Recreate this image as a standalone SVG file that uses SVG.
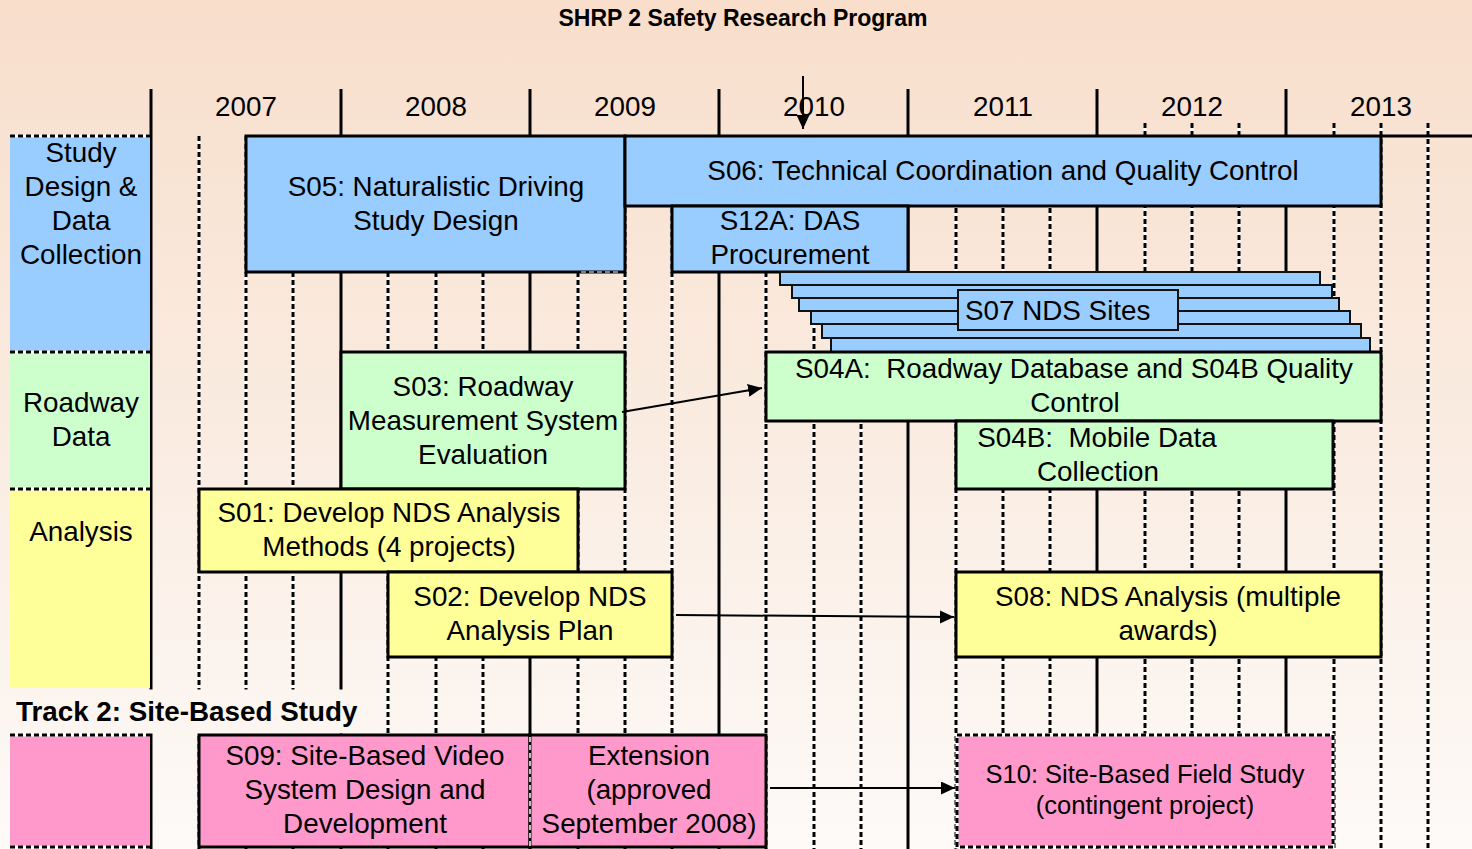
<svg xmlns="http://www.w3.org/2000/svg" xmlns:xlink="http://www.w3.org/1999/xlink" width="1472" height="849" viewBox="0 0 1472 849">
  <defs>
    <linearGradient id="bg" gradientUnits="userSpaceOnUse" x1="0" y1="0" x2="0" y2="849">
      <stop offset="0" stop-color="#F8DECB"/>
      <stop offset="0.55" stop-color="#FAEDE3"/>
      <stop offset="1" stop-color="#FDFAF8"/>
    </linearGradient>
    <marker id="arrow" markerUnits="userSpaceOnUse" markerWidth="16" markerHeight="14" refX="14" refY="6.5" orient="auto">
      <path d="M0,0 L14,6.5 L0,13 z" fill="#000"/>
    </marker>
    <!-- quarter-year grid lines -->
    <path id="qlines" d="M199,136V849 M246,136V849 M293,136V849 M388,136V849 M436,136V849 M483,136V849 M578,136V849 M625,136V849 M672,136V849 M766,136V849 M814,136V849 M861,136V849 M956,136V849 M1003,136V849 M1050,136V849 M1145,123V849 M1192,123V849 M1239,123V849 M1334,123V849 M1381,123V849 M1428,123V849"/>
    <!-- dotted band borders on the left category column -->
    <path id="bands" d="M10,136H150 M10,352H150 M10,489H150 M10,735H150 M10,847H150"/>
  </defs>
  <style>
    .t { font-family: "Liberation Sans", Arial, sans-serif; font-size: 27.8px; text-anchor: middle; fill: #000; }
    .b { font-weight: bold; }
    .box { stroke: #000; stroke-width: 3; }
    .blue { fill: #99CCFF; }
    .green { fill: #CCFFCC; }
    .yellow { fill: #FFFF99; }
    .pink { fill: #FF99CC; }
    .bar { fill: #99CCFF; stroke: #111; stroke-width: 2; }
    .solid { stroke: #000; stroke-width: 3; fill: none; }
    .dot-w { stroke: #fff; stroke-width: 3; fill: none; }
    .dot-b { stroke: #000; stroke-width: 3; fill: none; stroke-dasharray: 5 3; }
    .conn { stroke: #000; stroke-width: 2; fill: none; marker-end: url(#arrow); }
  </style>

  <!-- background -->
  <rect x="0" y="0" width="1472" height="849" fill="url(#bg)"/>

  <!-- title -->
  <text class="t b" x="743" y="26" style="font-size:23px">SHRP 2 Safety Research Program</text>

  <!-- timeline grid -->
  <g id="grid">
    <use xlink:href="#qlines" class="dot-w"/>
    <use xlink:href="#qlines" class="dot-b"/>
    <path class="solid" d="M151,89V849 M341,89V849 M530,89V849 M719,89V849 M908,89V849 M1097,89V849 M1286,89V849 M1381,136H1472"/>
    <!-- clear strip behind the Track 2 heading -->
    <rect x="0" y="689.5" width="372" height="44" fill="url(#bg)"/>
  </g>

  <!-- year headings -->
  <g id="years">
    <text class="t" x="246" y="116">2007</text>
    <text class="t" x="436" y="116">2008</text>
    <text class="t" x="625" y="116">2009</text>
    <text class="t" x="814" y="116">2010</text>
    <text class="t" x="1003" y="116">2011</text>
    <text class="t" x="1192" y="116">2012</text>
    <text class="t" x="1381" y="116">2013</text>
  </g>

  <!-- category column -->
  <g id="categories">
    <rect x="10" y="136" width="140" height="216" class="blue"/>
    <rect x="10" y="352" width="140" height="137" class="green"/>
    <rect x="10" y="489" width="140" height="199" class="yellow"/>
    <rect x="10" y="735" width="140" height="112" class="pink"/>
    <use xlink:href="#bands" class="dot-w"/>
    <use xlink:href="#bands" class="dot-b"/>
    <text class="t" x="81" y="162">Study</text>
    <text class="t" x="81" y="196">Design &amp;</text>
    <text class="t" x="81" y="230">Data</text>
    <text class="t" x="81" y="264">Collection</text>
    <text class="t" x="81" y="412">Roadway</text>
    <text class="t" x="81" y="446">Data</text>
    <text class="t" x="81" y="541">Analysis</text>
    <text class="t b" x="16" y="721" style="text-anchor:start">Track 2: Site-Based Study</text>
  </g>

  <g id="S05">
    <rect x="246" y="136" width="379" height="136" class="box blue"/>
    <path d="M581,272H621" stroke="#fff" stroke-width="1.2" stroke-dasharray="5 3"/>
    <text class="t" x="436" y="196">S05: Naturalistic Driving</text>
    <text class="t" x="436" y="230">Study Design</text>
  </g>

  <g id="S06">
    <rect x="625" y="136" width="756" height="70" class="box blue"/>
    <text class="t" x="1003" y="180">S06: Technical Coordination and Quality Control</text>
  </g>

  <g id="S12A">
    <rect x="672" y="206" width="236" height="66" class="box blue"/>
    <text class="t" x="790" y="230">S12A: DAS</text>
    <text class="t" x="790" y="264">Procurement</text>
  </g>

  <g id="S07">
    <rect x="780" y="272" width="540" height="13" class="bar"/>
    <rect x="792" y="285" width="540" height="13" class="bar"/>
    <rect x="799" y="298" width="540" height="13" class="bar"/>
    <rect x="811" y="311" width="539" height="13" class="bar"/>
    <rect x="822" y="324" width="539" height="14" class="bar"/>
    <rect x="831" y="338" width="539" height="14" class="bar"/>
    <rect x="958" y="290" width="220" height="40" class="bar"/>
    <text class="t" x="965" y="320" style="text-anchor:start">S07 NDS Sites</text>
  </g>

  <g id="S04A">
    <rect x="766" y="352" width="615" height="69" class="box green"/>
    <text class="t" x="1074" y="378" xml:space="preserve" style="white-space:pre">S04A:  Roadway Database and S04B Quality</text>
    <text class="t" x="1075" y="412">Control</text>
  </g>

  <g id="S04B">
    <rect x="956" y="421" width="377" height="68" class="box green"/>
    <text class="t" x="1097" y="447" xml:space="preserve" style="white-space:pre">S04B:  Mobile Data</text>
    <text class="t" x="1098" y="481">Collection</text>
  </g>

  <g id="S03">
    <rect x="341" y="352" width="284" height="137" class="box green"/>
    <text class="t" x="483" y="396">S03: Roadway</text>
    <text class="t" x="483" y="430">Measurement System</text>
    <text class="t" x="483" y="464">Evaluation</text>
  </g>

  <g id="S01">
    <rect x="199" y="489" width="379" height="83" class="box yellow"/>
    <text class="t" x="389" y="522">S01: Develop NDS Analysis</text>
    <text class="t" x="389" y="556">Methods (4 projects)</text>
  </g>

  <g id="S02">
    <rect x="388" y="572" width="284" height="85" class="box yellow"/>
    <text class="t" x="530" y="606">S02: Develop NDS</text>
    <text class="t" x="530" y="640">Analysis Plan</text>
  </g>

  <g id="S08">
    <rect x="956" y="572" width="425" height="85" class="box yellow"/>
    <text class="t" x="1168" y="606">S08: NDS Analysis (multiple</text>
    <text class="t" x="1168" y="640">awards)</text>
  </g>

  <g id="S09">
    <rect x="199" y="735" width="331" height="112" class="box pink"/>
    <text class="t" x="365" y="765">S09: Site-Based Video</text>
    <text class="t" x="365" y="799">System Design and</text>
    <text class="t" x="365" y="833">Development</text>
  </g>

  <g id="Extension">
    <rect x="530" y="735" width="236" height="112" class="box pink"/>
    <path d="M530,737V846" stroke="#fff" stroke-width="1.5" stroke-dasharray="5 3"/>
    <text class="t" x="649" y="765">Extension</text>
    <text class="t" x="649" y="799">(approved</text>
    <text class="t" x="649" y="833">September 2008)</text>
  </g>

  <g id="S10">
    <rect x="957" y="735" width="376" height="112" class="pink"/>
    <rect x="957" y="735" width="376" height="112" class="dot-w"/>
    <rect x="957" y="735" width="376" height="112" class="dot-b"/>
    <text class="t" x="1145" y="783" style="font-size:25.5px">S10: Site-Based Field Study</text>
    <text class="t" x="1145" y="814" style="font-size:25.5px">(contingent project)</text>
  </g>

  <!-- connectors -->
  <g id="connectors">
    <path class="conn" d="M803,76V129"/>
    <path class="conn" d="M622,412L762,388"/>
    <path class="conn" d="M676,615L954,617"/>
    <path class="conn" d="M770,788H955"/>
  </g>
</svg>
